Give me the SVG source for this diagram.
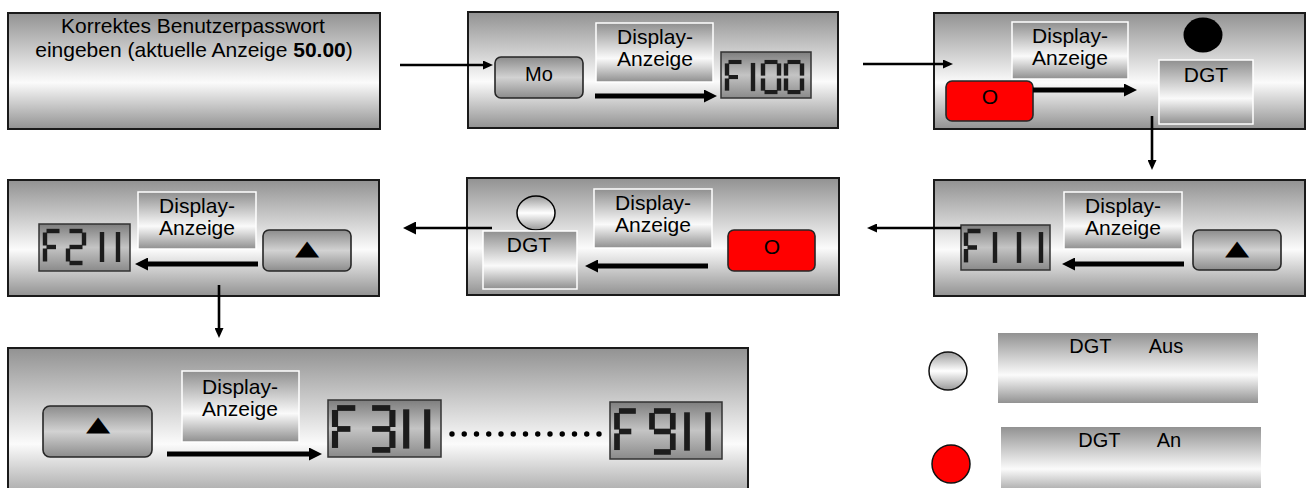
<svg xmlns="http://www.w3.org/2000/svg" xmlns:xlink="http://www.w3.org/1999/xlink" width="1311" height="488" viewBox="0 0 1311 488">
<style>
.panel{fill:url(#gPanel);stroke:#1a1a1a;stroke-width:2}
.box{fill:url(#gBox);stroke:#ffffff;stroke-width:1.5}
.btn{fill:url(#gBtn);stroke:#262626;stroke-width:1.6}
.red{fill:#ff0000;stroke:#262626;stroke-width:1.6}
.lcd{fill:url(#gLcd);stroke:#333333;stroke-width:1.5}
.seg{stroke:#1c1c1c;stroke-width:4.4;fill:none}
.t{font-family:"Liberation Sans",Arial,sans-serif;fill:#000;text-anchor:middle;font-size:21px}
.sym{font-family:"DejaVu Sans",sans-serif;fill:#000;text-anchor:middle}
.thin{stroke:#000;stroke-width:2.6;fill:none}
.thick{stroke:#000;stroke-width:5;fill:none}
</style>
<defs>
<linearGradient id="gPanel" x1="0" y1="0" x2="0" y2="1">
<stop offset="0" stop-color="#929292"/><stop offset="0.6" stop-color="#fbfbfb"/><stop offset="1" stop-color="#929292"/>
</linearGradient>
<linearGradient id="gBox" x1="0" y1="0" x2="0" y2="1">
<stop offset="0" stop-color="#8f8f8f"/><stop offset="0.6" stop-color="#fafafa"/><stop offset="1" stop-color="#8f8f8f"/>
</linearGradient>
<linearGradient id="gBtn" x1="0" y1="0" x2="0" y2="1">
<stop offset="0" stop-color="#8c8c8c"/><stop offset="0.5" stop-color="#d2d2d2"/><stop offset="1" stop-color="#8c8c8c"/>
</linearGradient>
<linearGradient id="gLcd" x1="0" y1="0" x2="0" y2="1">
<stop offset="0" stop-color="#7e7e7e"/><stop offset="0.5" stop-color="#c4c4c4"/><stop offset="1" stop-color="#8a8a8a"/>
</linearGradient>
<linearGradient id="gCirc" x1="0" y1="0" x2="0" y2="1">
<stop offset="0" stop-color="#9a9a9a"/><stop offset="0.5" stop-color="#ffffff"/><stop offset="1" stop-color="#9a9a9a"/>
</linearGradient>
<marker id="mS" markerUnits="userSpaceOnUse" markerWidth="10" markerHeight="9" viewBox="0 0 10 9" refX="0" refY="4.5" orient="auto"><path d="M0,0L10,4.5L0,9z" fill="#000"/></marker>
<marker id="mB" markerUnits="userSpaceOnUse" markerWidth="13" markerHeight="13" viewBox="0 0 13 13" refX="0" refY="6.5" orient="auto"><path d="M0,0L13,6.5L0,13z" fill="#000"/></marker>
<g id="dF" class="seg"><line x1="0" y1="1.5" x2="0" y2="14.5"/><line x1="0" y1="17.5" x2="0" y2="30.5"/><line x1="1.5" y1="0" x2="14.5" y2="0"/><line x1="1.5" y1="16" x2="11" y2="16"/></g>
<g id="d0" class="seg"><line x1="1.5" y1="0" x2="14.5" y2="0"/><line x1="16" y1="1.5" x2="16" y2="14.5"/><line x1="16" y1="17.5" x2="16" y2="30.5"/><line x1="1.5" y1="32" x2="14.5" y2="32"/><line x1="0" y1="17.5" x2="0" y2="30.5"/><line x1="0" y1="1.5" x2="0" y2="14.5"/></g>
<g id="d1" class="seg"><line x1="8" y1="1" x2="8" y2="31"/></g>
<g id="d2" class="seg"><line x1="1.5" y1="0" x2="14.5" y2="0"/><line x1="16" y1="1.5" x2="16" y2="14.5"/><line x1="1.5" y1="16" x2="14.5" y2="16"/><line x1="0" y1="17.5" x2="0" y2="30.5"/><line x1="1.5" y1="32" x2="14.5" y2="32"/></g>
<g id="d3" class="seg"><line x1="1.5" y1="0" x2="14.5" y2="0"/><line x1="16" y1="1.5" x2="16" y2="14.5"/><line x1="1.5" y1="16" x2="14.5" y2="16"/><line x1="16" y1="17.5" x2="16" y2="30.5"/><line x1="1.5" y1="32" x2="14.5" y2="32"/></g>
<g id="d9" class="seg"><line x1="1.5" y1="0" x2="14.5" y2="0"/><line x1="16" y1="1.5" x2="16" y2="14.5"/><line x1="0" y1="1.5" x2="0" y2="14.5"/><line x1="1.5" y1="16" x2="14.5" y2="16"/><line x1="16" y1="17.5" x2="16" y2="30.5"/><line x1="1.5" y1="32" x2="14.5" y2="32"/></g>
</defs>

<g id="step1">
<rect class="panel" x="8" y="13" width="372" height="116"/>
<text class="t" x="193" y="33">Korrektes Benutzerpasswort</text>
<text class="t" x="194" y="57">eingeben (aktuelle Anzeige <tspan font-weight="bold">50.00</tspan>)</text>
</g>

<g id="step2">
<rect class="panel" x="468" y="12" width="370" height="116"/>
<rect class="btn" x="495" y="57" width="88" height="41" rx="6"/>
<text class="t" x="539" y="81" style="font-size:20px">Mo</text>
<rect class="box" x="596" y="23" width="117" height="59"/>
<text class="t" x="655" y="44">Display-</text>
<text class="t" x="655" y="66">Anzeige</text>
<rect class="lcd" x="721" y="52" width="90" height="46"/>
<use href="#dF" transform="translate(727,62) scale(1,0.94)"/>
<use href="#d1" transform="translate(745,62) scale(1,0.94)"/>
<use href="#d0" transform="translate(763,62) scale(1,0.94)"/>
<use href="#d0" transform="translate(786,62) scale(1,0.94)"/>
</g>

<g id="step3">
<rect class="panel" x="934" y="13" width="371" height="116"/>
<rect class="box" x="1012" y="22" width="116" height="57"/>
<text class="t" x="1070" y="43">Display-</text>
<text class="t" x="1070" y="65">Anzeige</text>
<ellipse cx="1203" cy="35" rx="19.5" ry="17.5" fill="#000"/>
<rect class="box" x="1159" y="60" width="94" height="64"/>
<text class="t" x="1206" y="82">DGT</text>
<rect class="red" x="946" y="81" width="87" height="40" rx="6"/>
<text class="t" x="990" y="104">O</text>
</g>

<g id="step4">
<rect class="panel" x="934" y="180" width="371" height="116"/>
<rect class="box" x="1064" y="192" width="118" height="57"/>
<text class="t" x="1123" y="213">Display-</text>
<text class="t" x="1123" y="235">Anzeige</text>
<rect class="lcd" x="961" y="225" width="89" height="45"/>
<use href="#dF" transform="translate(966,231) scale(1,1.03)"/>
<use href="#d1" transform="translate(987,231) scale(1,1.03)"/>
<use href="#d1" transform="translate(1011,231) scale(1,1.03)"/>
<use href="#d1" transform="translate(1033,231) scale(1,1.03)"/>
<rect class="btn" x="1193" y="230" width="88" height="40" rx="6"/>
<text class="sym" font-size="21" transform="translate(1237,255) scale(1.5,1)">▲</text>
</g>

<g id="step5">
<rect class="panel" x="467" y="178" width="372" height="117"/>
<ellipse cx="536" cy="213" rx="19" ry="17" fill="url(#gCirc)" stroke="#000" stroke-width="1.5"/>
<rect class="box" x="483" y="231" width="94" height="58"/>
<text class="t" x="529" y="252">DGT</text>
<rect class="box" x="594" y="189" width="118" height="59"/>
<text class="t" x="653" y="210">Display-</text>
<text class="t" x="653" y="232">Anzeige</text>
<rect class="red" x="728" y="230" width="87" height="41" rx="6"/>
<text class="t" x="772" y="254">O</text>
</g>

<g id="step6">
<rect class="panel" x="8" y="180" width="371" height="116"/>
<rect class="box" x="138" y="192" width="118" height="57"/>
<text class="t" x="197" y="213">Display-</text>
<text class="t" x="197" y="235">Anzeige</text>
<rect class="lcd" x="39" y="224" width="91" height="47"/>
<use href="#dF" transform="translate(45,231)"/>
<use href="#d2" transform="translate(68,231)"/>
<use href="#d1" transform="translate(94,231)"/>
<use href="#d1" transform="translate(110,231)"/>
<rect class="btn" x="263" y="230" width="88" height="41" rx="6"/>
<text class="sym" font-size="21" transform="translate(307,255) scale(1.5,1)">▲</text>
</g>

<g id="step7">
<rect class="panel" x="8" y="348" width="740" height="160"/>
<rect class="btn" x="43" y="406" width="109" height="51" rx="7"/>
<text class="sym" font-size="21" transform="translate(98,431) scale(1.5,1)">▲</text>
<rect class="box" x="182" y="371" width="117" height="71"/>
<text class="t" x="240" y="394">Display-</text>
<text class="t" x="240" y="416">Anzeige</text>
<rect class="lcd" x="328" y="400" width="113" height="57"/>
<use href="#dF" transform="translate(335,408) scale(1.4,1.31)"/>
<use href="#d3" transform="translate(370,408) scale(1.4,1.31)"/>
<use href="#d1" transform="translate(395,408) scale(1.4,1.31)"/>
<use href="#d1" transform="translate(416,408) scale(1.4,1.31)"/>
<line x1="452" y1="434" x2="600" y2="434" stroke="#000" stroke-width="5.4" stroke-linecap="round" stroke-dasharray="0 12.25"/>
<rect class="lcd" x="610" y="402" width="112" height="57"/>
<use href="#dF" transform="translate(617,411) scale(1.3,1.28)"/>
<use href="#d9" transform="translate(652,411) scale(1.3,1.28)"/>
<use href="#d1" transform="translate(676.6,411) scale(1.3,1.28)"/>
<use href="#d1" transform="translate(697.6,411) scale(1.3,1.28)"/>
</g>

<g id="legend-off">
<circle cx="948" cy="371" r="19" fill="url(#gCirc)" stroke="#111" stroke-width="1.5"/>
<rect x="998" y="333" width="260" height="70" fill="url(#gPanel)"/>
<text class="t" style="font-size:20px"><tspan x="1093" y="353">DGT</tspan> <tspan x="1166" y="353">Aus</tspan></text>
</g>

<g id="legend-on">
<circle cx="951" cy="464" r="19" fill="#ff0000" stroke="#111" stroke-width="1.5"/>
<rect x="1001" y="427" width="260" height="70" fill="url(#gPanel)"/>
<text class="t" style="font-size:20px"><tspan x="1102" y="447">DGT</tspan> <tspan x="1169" y="447">An</tspan></text>
</g>

<g id="connectors">
<line class="thin" x1="400" y1="65" x2="483" y2="65" marker-end="url(#mS)"/>
<line class="thin" x1="863" y1="64" x2="943" y2="64" marker-end="url(#mS)"/>
<line class="thin" x1="1152" y1="116" x2="1152" y2="160" marker-end="url(#mS)"/>
<line class="thin" x1="961" y1="228" x2="877" y2="228" marker-end="url(#mS)"/>
<line class="thin" x1="492" y1="228" x2="416" y2="228" stroke-width="4" marker-end="url(#mB)"/>
<line class="thin" x1="219" y1="285" x2="219" y2="328" marker-end="url(#mS)"/>
<line class="thick" x1="595" y1="96" x2="704" y2="96" marker-end="url(#mB)"/>
<line class="thick" x1="1033" y1="90" x2="1124" y2="90" stroke-width="4" marker-end="url(#mB)"/>
<line class="thick" x1="1184" y1="264" x2="1075" y2="264" marker-end="url(#mB)"/>
<line class="thick" x1="708" y1="266" x2="598" y2="266" marker-end="url(#mB)"/>
<line class="thick" x1="258" y1="264" x2="148" y2="264" marker-end="url(#mB)"/>
<line class="thick" x1="167" y1="454" x2="309" y2="454" marker-end="url(#mB)"/>
</g>
</svg>
